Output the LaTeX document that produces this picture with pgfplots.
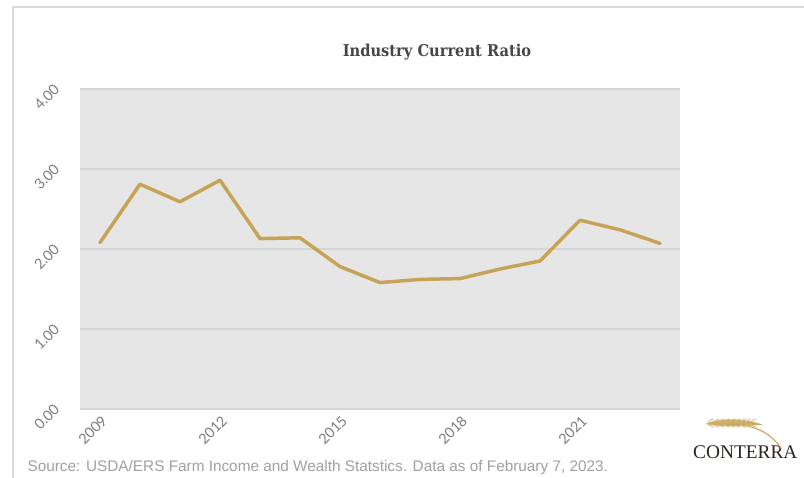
\documentclass[border=0pt]{standalone}
\usepackage{fontspec}
\setmainfont{Liberation Sans}
\newfontfamily\tickfont{Lato}
\newfontfamily\titlefont{DejaVu Serif Condensed}
\newfontfamily\logofont{Liberation Serif}
\usepackage{pgfplots}
\pgfplotsset{compat=1.18}
\definecolor{gold}{RGB}{199,163,88}
\definecolor{plotbg}{RGB}{230,230,230}
\definecolor{gridc}{RGB}{214,214,214}
\definecolor{tickc}{RGB}{125,125,125}
\definecolor{titlec}{RGB}{70,70,70}
\definecolor{srcc}{RGB}{160,160,160}
\definecolor{framec}{RGB}{218,218,218}
\definecolor{logoc}{RGB}{45,38,32}
\begin{document}
\begin{tikzpicture}
\useasboundingbox (0,0) rectangle (603pt,358.5pt);
\fill[white] (0,0) rectangle (603pt,358.5pt);
% frame
\draw[framec, line width=1.1pt] (9.75pt,0) -- (9.75pt,353.25pt) -- (603pt,353.25pt);
\begin{axis}[
  at={(60pt,51.75pt)}, anchor=south west,
  scale only axis, width=450pt, height=240pt,
  xmin=2008.5, xmax=2023.5, ymin=0, ymax=4,
  xtick={2009,2012,2015,2018,2021},
  xticklabels={2009,2012,2015,2018,2021},
  ytick={0,1,2,3,4},
  axis background/.style={fill=plotbg},
  axis line style={draw=none},
  major tick length=0pt,
  ymajorgrids, grid style={gridc, line width=0.8pt},
  /pgf/number format/.cd, fixed, fixed zerofill, precision=2, assume math mode=true,
  /pgfplots/.cd,
  tick label style={font=\tickfont\fontsize{10.8}{12}\selectfont, text=tickc},
  xticklabel style={xshift=-5.5pt, yshift=-16pt, rotate=45, anchor=center},
  yticklabel style={xshift=-25pt, yshift=-6pt, rotate=45, anchor=center},
]
\addplot[gold, line width=2.6pt, line join=round, line cap=round] coordinates {
 (2009,2.08) (2010,2.81) (2011,2.59) (2012,2.86) (2013,2.13) (2014,2.14)
 (2015,1.78) (2016,1.58) (2017,1.62) (2018,1.63) (2019,1.75) (2020,1.85)
 (2021,2.36) (2022,2.24) (2023,2.07)
};
\end{axis}
% title
\node[font=\titlefont\bfseries\fontsize{12.2}{14}\selectfont, text=titlec] at (327.75pt,319.5pt) {Industry Current Ratio};
% source
\node[anchor=west, font=\fontsize{11.5}{13}\selectfont, text=srcc, inner sep=0pt] at (20.5pt,8pt) {Source: USDA/ERS Farm Income and Wealth Statstics. Data as of February 7, 2023.};
% logo
\node[font=\logofont\fontsize{14.5}{16}\selectfont, text=logoc, inner sep=0pt] at (559pt,19.5pt) {CONTERRA};
\fill[gold!90!white] (529pt,40.5pt) .. controls (540pt,45.5pt) and (558pt,45pt) .. (572pt,40pt)
  .. controls (558pt,38.5pt) and (542pt,38pt) .. (529pt,40.5pt) -- cycle;
\draw[gold, line width=0.8pt] (545pt,40pt) .. controls (565pt,41pt) and (578pt,34pt) .. (586pt,22pt);
\foreach \t in {531,535,539,543,547,551,555,559,563} {
  \draw[gold!75!white, line width=0.6pt] (\t pt,42pt) -- ++(4pt,2.5pt);
  \draw[gold!75!white, line width=0.6pt] (\t pt,40pt) -- ++(4pt,-2pt);
}
\end{tikzpicture}
\end{document}
